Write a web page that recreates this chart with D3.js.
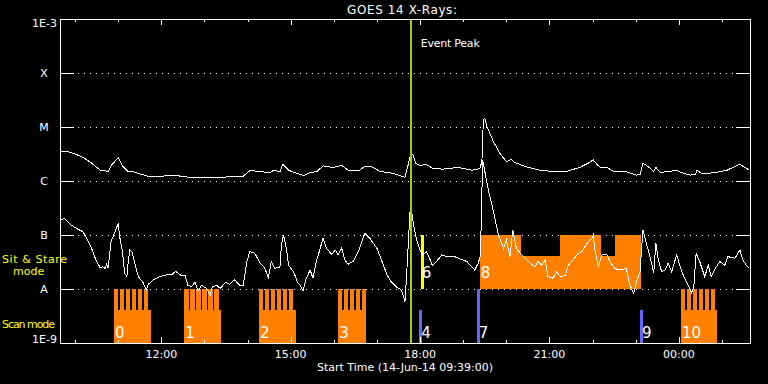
<!DOCTYPE html>
<html><head><meta charset="utf-8">
<script src="https://cdn.jsdelivr.net/npm/d3@7"></script>
<style>
html,body{margin:0;padding:0;background:#000;}
svg{display:block;}
text{font-family:"DejaVu Sans",sans-serif;}
</style></head><body>
<svg id="c" width="768" height="384"></svg>
<script>
// ---------- data ----------
const title = "GOES 14 X-Rays:";
const startLabel = "Start Time (14-Jun-14 09:39:00)";
const classLabels = ["1E-9","A","B","C","M","X","1E-3"];
const classLog = [-9,-8,-7,-6,-5,-4,-3];
const tickLabels = ["12:00","15:00","18:00","21:00","00:00"];
const timeStart = "09:39", timeEnd = "01:39";

const longTimes = ["09:39","09:48","09:58","10:11","10:23","10:35","10:46","10:51","11:00","11:07",
"11:14","11:19","11:30","11:44","11:58","12:21","12:44","13:08","13:40","13:54",
"14:03","14:17","14:31","14:36","14:45","14:49","14:57","15:04","15:18","15:27",
"15:36","15:45","15:59","16:11","16:20","16:36","16:43","16:53","17:04","17:23",
"17:39","17:44","17:47","17:50","17:54","18:00","18:08","18:18","18:32","18:53",
"19:12","19:23","19:26","19:28","19:30","19:33","19:42","19:51","20:00","20:07",
"20:12","20:28","20:47","21:10","21:24","21:42","21:54","22:01","22:06","22:10",
"22:20","22:29","22:47","23:01","23:06","23:10","23:18","23:25","23:28","23:34",
"23:43","23:57","00:02","00:16","00:23","00:25","00:32","00:48","01:07","01:25",
"01:32","01:38"];
const longLog = [-5.46,-5.45,-5.49,-5.56,-5.67,-5.80,-5.82,-5.70,-5.57,-5.74,
-5.83,-5.82,-5.87,-5.92,-5.91,-5.90,-5.94,-5.94,-5.92,-5.91,
-5.81,-5.82,-5.85,-5.80,-5.83,-5.69,-5.80,-5.84,-5.90,-5.84,
-5.83,-5.72,-5.75,-5.71,-5.80,-5.80,-5.73,-5.74,-5.82,-5.86,
-5.93,-5.67,-5.50,-5.52,-5.67,-5.72,-5.69,-5.77,-5.78,-5.75,
-5.80,-5.77,-5.64,-4.87,-4.84,-4.99,-5.27,-5.49,-5.64,-5.60,
-5.66,-5.74,-5.80,-5.83,-5.82,-5.75,-5.67,-5.61,-5.69,-5.74,
-5.75,-5.82,-5.83,-5.89,-5.88,-5.67,-5.74,-5.83,-5.75,-5.84,
-5.83,-5.80,-5.84,-5.89,-5.88,-5.80,-5.86,-5.85,-5.80,-5.69,
-5.75,-5.80];

const shortTimes = ["09:39","09:46","09:53","10:02","10:11","10:16","10:23","10:29","10:35","10:38",
"10:42","10:44","10:46","10:50","10:53","10:58","11:00","11:02","11:06","11:09",
"11:12","11:14","11:16","11:19","11:23","11:28","11:35","11:39","11:42","11:49",
"11:58","12:07","12:14","12:20","12:26","12:33","12:37","12:42","12:47","12:51",
"12:56","13:03","13:08","13:11","13:17","13:22","13:29","13:35","13:42","13:49",
"13:54","13:59","14:03","14:10","14:17","14:23","14:29","14:33","14:38","14:45",
"14:47","14:50","14:54","14:57","15:04","15:10","15:13","15:17","15:21","15:27",
"15:31","15:35","15:41","15:45","15:50","15:57","16:02","16:06","16:11","16:15",
"16:20","16:27","16:34","16:39","16:43","16:50","17:00","17:07","17:14","17:20",
"17:27","17:34","17:37","17:39","17:41","17:44","17:46","17:48","17:51","17:55",
"18:00","18:04","18:09","18:14","18:17","18:23","18:30","18:37","18:46","18:55",
"19:05","19:12","19:16","19:21","19:24","19:27","19:35","19:40","19:49","19:56",
"20:00","20:05","20:09","20:14","20:21","20:26","20:33","20:40","20:44","20:49",
"20:54","20:58","21:05","21:10","21:15","21:22","21:26","21:33","21:40","21:45",
"21:49","21:54","21:59","22:01","22:03","22:08","22:13","22:20","22:24","22:31",
"22:38","22:47","22:52","22:57","23:01","23:06","23:10","23:13","23:18","23:22",
"23:25","23:28","23:31","23:36","23:41","23:45","23:50","23:57","00:02","00:06",
"00:13","00:18","00:21","00:24","00:29","00:36","00:41","00:45","00:52","00:57",
"01:04","01:08","01:18","01:25","01:29","01:34","01:38"];
const shortLog = [-6.71,-6.70,-6.80,-6.88,-6.94,-7.06,-7.25,-7.46,-7.61,-7.59,
-7.62,-7.54,-7.61,-7.12,-7.03,-6.85,-6.80,-7.03,-7.31,-7.71,
-7.77,-7.49,-7.28,-7.31,-7.52,-7.77,-7.89,-8.02,-7.91,-7.83,
-7.77,-7.74,-7.74,-7.67,-7.74,-7.75,-7.93,-7.96,-7.87,-8.04,
-7.93,-7.99,-8.12,-7.96,-7.93,-7.99,-7.88,-7.91,-7.83,-7.93,
-7.93,-7.49,-7.31,-7.34,-7.51,-7.59,-7.79,-7.49,-7.62,-7.59,
-7.19,-7.00,-7.25,-7.56,-7.68,-7.89,-7.93,-8.04,-7.83,-7.65,
-7.80,-7.52,-7.25,-7.06,-7.25,-7.36,-7.28,-7.37,-7.24,-7.46,
-7.54,-7.49,-7.31,-7.12,-6.97,-7.06,-7.25,-7.49,-7.74,-7.87,
-7.96,-8.02,-8.14,-8.24,-7.80,-7.06,-6.57,-6.54,-6.82,-7.09,
-7.28,-7.37,-7.31,-7.46,-7.56,-7.49,-7.37,-7.40,-7.39,-7.44,
-7.49,-7.59,-7.65,-7.52,-7.37,-5.61,-6.17,-6.44,-7.00,-7.25,
-7.09,-7.40,-6.91,-7.25,-7.36,-7.43,-7.52,-7.59,-7.49,-7.56,
-7.46,-7.77,-7.80,-7.68,-7.77,-7.75,-7.56,-7.46,-7.34,-7.31,
-7.22,-7.12,-7.06,-7.00,-7.25,-7.59,-7.37,-7.37,-7.49,-7.62,
-7.65,-7.62,-7.93,-8.08,-7.87,-7.68,-6.91,-7.06,-7.31,-7.52,
-7.71,-7.15,-7.43,-7.68,-7.65,-7.52,-7.68,-7.37,-7.59,-7.74,
-7.93,-8.08,-7.93,-7.34,-7.49,-7.77,-7.56,-7.77,-7.59,-7.49,
-7.56,-7.40,-7.43,-7.28,-7.46,-7.56,-7.62];

// Scan mode (raster) observations
const scanIds = ["0","1","2","3","10"];
const scanStart = ["10:54","12:32","14:16","16:06","00:03"];
const scanEnd = ["11:46","13:23","15:07","16:45","00:53"];
const scanRasters = [6,6,6,5,6];
const rasterCadenceMin = 8.35;
const rasterDurMin = 6.0;
const shortLevel = 0.61;   // fraction of band height for short bars

// Single scan-mode markers (blue)
const markIds = ["4","7","9"];
const markTimes = ["18:01","19:21","23:08"];
const markLevel = [0.61, 1, 0.61];

// Sit & Stare observations
const stareLineId = "6", stareLineTime = "18:03";
const stareBlockId = "8";
const stareSegStart = ["19:23","20:20","21:15","22:12","22:31"];
const stareSegEnd   = ["20:20","21:15","22:12","22:31","23:07"];
const stareSegLevel = [1, 0.61, 1, 0.61, 1];

const eventPeakTime = "17:47";

// ---------- helpers ----------
function parseT(s){
  const [h,m] = s.split(":").map(Number);
  return new Date(2014, 5, h < 9 ? 15 : 14, h, m, 0);
}
const svg = d3.select("#c");
const L = 60, R = 750, T = 19, B = 343;
const x = d3.scaleTime().domain([parseT(timeStart), parseT(timeEnd)]).range([L, R]);
const y = d3.scaleLog().domain([1e-9, 1e-3]).range([B, T]);
const yl = v => y(Math.pow(10, v));
const addMin = (d, m) => new Date(d.getTime() + m * 60000);

const ORANGE = "#ff8000", BLUE = "#6464ff", YELLOW = "#ffff00", GREEN = "#9fd000";

svg.append("rect").attr("width",768).attr("height",384).attr("fill","#000");

// grid (dotted)
const gridG = svg.append("g");
classLog.slice(1, 6).forEach(v => {
  gridG.append("line").attr("x1", L + 18).attr("x2", R - 14)
    .attr("y1", Math.round(yl(v)) + 0.5).attr("y2", Math.round(yl(v)) + 0.5)
    .attr("stroke", "#fff").attr("stroke-width", 1).attr("stroke-dasharray", "1,5")
    .attr("shape-rendering", "crispEdges");
});

// ---------- observation bars ----------
const obsG = svg.append("g").attr("shape-rendering", "crispEdges");
const scanTopShort = yl(-9 + shortLevel);
scanIds.forEach((id, i) => {
  const s = parseT(scanStart[i]), e = parseT(scanEnd[i]);
  obsG.append("rect").attr("x", x(s)).attr("width", x(e) - x(s))
    .attr("y", scanTopShort).attr("height", yl(-9) - scanTopShort).attr("fill", ORANGE);
  d3.range(scanRasters[i]).forEach(k => {
    const t0 = addMin(s, k * rasterCadenceMin), t1 = addMin(t0, rasterDurMin);
    obsG.append("rect").attr("x", x(t0)).attr("width", x(t1) - x(t0))
      .attr("y", yl(-8)).attr("height", yl(-9) - yl(-8)).attr("fill", ORANGE);
  });
});
stareSegStart.forEach((st, i) => {
  const s = parseT(st), e = parseT(stareSegEnd[i]);
  const top = yl(-8 + stareSegLevel[i]);
  obsG.append("rect").attr("x", x(s)).attr("width", x(e) - x(s))
    .attr("y", top).attr("height", yl(-8) - top).attr("fill", ORANGE);
});
markIds.forEach((id, i) => {
  const t = x(parseT(markTimes[i]));
  const top = yl(-9 + markLevel[i]);
  obsG.append("rect").attr("x", t - 1.5).attr("width", 3)
    .attr("y", top).attr("height", yl(-9) - top).attr("fill", BLUE);
});
{
  const t = x(parseT(stareLineTime));
  obsG.append("rect").attr("x", t - 1.5).attr("width", 3)
    .attr("y", yl(-7)).attr("height", yl(-8) - yl(-7)).attr("fill", YELLOW);
}

// ---------- curves ----------
const line = d3.line().x(d => x(d.t)).y(d => yl(d.v));
const longData = longTimes.map((t, i) => ({t: parseT(t), v: longLog[i]}));
const shortData = shortTimes.map((t, i) => ({t: parseT(t), v: shortLog[i]}));
svg.append("path").datum(longData).attr("d", line)
  .attr("fill", "none").attr("stroke", "#fff").attr("stroke-width", 1)
  .attr("shape-rendering", "crispEdges");
svg.append("path").datum(shortData).attr("d", line)
  .attr("fill", "none").attr("stroke", "#fff").attr("stroke-width", 1)
  .attr("shape-rendering", "crispEdges");

// ---------- labels on bars ----------
const lblG = svg.append("g").attr("fill", "#fff").attr("font-size", 15);
scanIds.forEach((id, i) => {
  lblG.append("text").attr("x", x(parseT(scanStart[i])) + 1).attr("y", 338).text(id);
});
markIds.forEach((id, i) => {
  lblG.append("text").attr("x", x(parseT(markTimes[i])) + 0.5).attr("y", 338).text(id);
});
lblG.append("text").attr("x", x(parseT(stareLineTime)) - 0.5).attr("y", 278).text(stareLineId);
lblG.append("text").attr("x", x(parseT(stareSegStart[0])) + 1).attr("y", 278).text(stareBlockId);

// ---------- event peak ----------
const ep = x(parseT(eventPeakTime));
svg.append("rect").attr("x", ep - 1).attr("width", 2.5).attr("y", T).attr("height", B - T)
  .attr("fill", GREEN).attr("shape-rendering", "crispEdges");
svg.append("text").attr("x", ep + 10).attr("y", 47).attr("fill", "#fff")
  .attr("font-size", 11).attr("textLength", 59).attr("lengthAdjust", "spacing").text("Event Peak");

// ---------- axes frame ----------
const axG = svg.append("g").attr("stroke", "#fff").attr("stroke-width", 1)
  .attr("shape-rendering", "crispEdges");
axG.append("rect").attr("x", L + 0.5).attr("y", T + 0.5).attr("width", R - L).attr("height", B - T)
  .attr("fill", "none");
classLog.slice(1, 6).forEach(v => {
  const yy = Math.round(yl(v)) + 0.5;
  axG.append("line").attr("x1", L).attr("x2", L + 14).attr("y1", yy).attr("y2", yy);
  axG.append("line").attr("x1", R - 14).attr("x2", R).attr("y1", yy).attr("y2", yy);
});
const hours = d3.timeHour.range(x.domain()[0], x.domain()[1]);
hours.forEach(h => {
  const xx = Math.round(x(h)) + 0.5;
  const major = h.getHours() % 3 === 0;
  const len = major ? 6 : 3;
  axG.append("line").attr("x1", xx).attr("x2", xx).attr("y1", B).attr("y2", B - len);
  axG.append("line").attr("x1", xx).attr("x2", xx).attr("y1", T).attr("y2", T + len);
});

// ---------- text ----------
const txt = svg.append("g").attr("fill", "#fff").attr("font-size", 11);
svg.append("text").attr("x", 402).attr("y", 14).attr("text-anchor", "middle")
  .attr("fill", "#fff").attr("font-size", 12).attr("textLength", 110)
  .attr("lengthAdjust", "spacing").text(title);
const majorHours = hours.filter(h => h.getHours() % 3 === 0);
majorHours.forEach((h, i) => {
  txt.append("text").attr("x", x(h)).attr("y", 358).attr("text-anchor", "middle").text(tickLabels[i]);
});
txt.append("text").attr("x", 405).attr("y", 371).attr("text-anchor", "middle").text(startLabel);
classLabels.forEach((lab, i) => {
  const v = classLog[i];
  let yy = yl(v) + 4;
  if (i === 0) yy = yl(v);
  if (i === classLabels.length - 1) yy = yl(v) + 8;
  const long = lab.length > 1;
  txt.append("text").attr("x", long ? 57 : 44).attr("y", yy)
    .attr("text-anchor", long ? "end" : "middle").text(lab);
});
const yel = svg.append("g").attr("fill", YELLOW).attr("font-size", 11);
yel.append("text").attr("x", 2).attr("y", 263).attr("textLength", 65).attr("lengthAdjust", "spacing").text("Sit & Stare");
yel.append("text").attr("x", 13).attr("y", 275).text("mode");
yel.append("text").attr("x", 2).attr("y", 328).attr("textLength", 53).attr("lengthAdjust", "spacing").text("Scan mode");
</script>
</body></html>
